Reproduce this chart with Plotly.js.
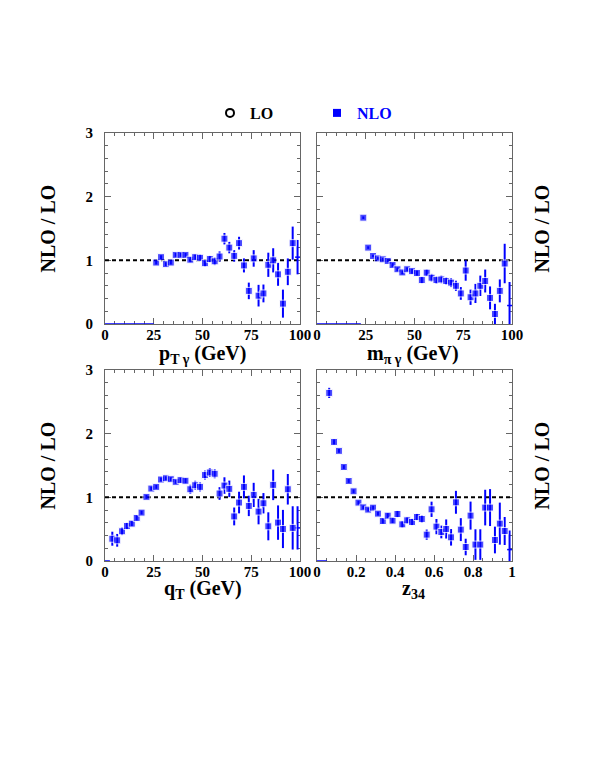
<!DOCTYPE html>
<html>
<head>
<meta charset="utf-8">
<script src="https://cdn.plot.ly/plotly-3.0.1.min.js"></script>
<style>
  body { margin: 0; background: #fff; }
  #chart { width: 590px; height: 763px; }
</style>
</head>
<body>
<div id="chart"></div>
<script>
// p_T gamma panel (top left)
const ptX = [26.25, 28.75, 31.25, 33.75, 36.25, 38.75, 41.25, 43.75, 46.25, 48.75, 51.25, 53.75, 56.25, 58.75, 61.25,
             63.75, 66.25, 68.75, 71.25, 73.75, 76.25, 78.75, 81.25, 83.75, 86.25, 88.75, 91.25, 93.75, 96.25, 98.75];
const ptY = [0.965, 1.05, 0.94, 0.965, 1.085, 1.085, 1.085, 1.01, 1.05, 1.04, 0.955, 1.02, 0.985, 1.06, 1.34,
             1.20, 1.07, 1.27, 0.92, 0.52, 1.03, 0.445, 0.48, 0.93, 1.0, 0.78, 0.32, 0.82, 1.27, 1.05];
const ptErr = [0.03, 0.03, 0.03, 0.03, 0.03, 0.03, 0.03, 0.04, 0.04, 0.05, 0.05, 0.05, 0.06, 0.08, 0.09,
               0.09, 0.09, 0.1, 0.11, 0.13, 0.13, 0.17, 0.14, 0.19, 0.19, 0.18, 0.22, 0.21, 0.26, 0.27];

// m_pi gamma panel (top right)
const mX = [23.75, 26.25, 28.75, 31.25, 33.75, 36.25, 38.75, 41.25, 43.75, 46.25, 48.75, 51.25, 53.75, 56.25, 58.75, 61.25,
            63.75, 66.25, 68.75, 71.25, 73.75, 76.25, 78.75, 81.25, 83.75, 86.25, 88.75, 91.25, 93.75, 96.25, 98.75];
const mY = [1.67, 1.20, 1.068, 1.03, 1.016, 0.99, 0.927, 0.86, 0.81, 0.86, 0.83, 0.80, 0.69, 0.806, 0.727, 0.69,
            0.70, 0.675, 0.65, 0.60, 0.48, 0.84, 0.42, 0.48, 0.60, 0.675, 0.41, 0.157, 0.52, 0.95, 0.29];
const mErr = [0.02, 0.02, 0.02, 0.02, 0.02, 0.02, 0.03, 0.03, 0.03, 0.03, 0.04, 0.04, 0.05, 0.05, 0.06, 0.06,
              0.06, 0.06, 0.07, 0.08, 0.1, 0.16, 0.12, 0.15, 0.16, 0.18, 0.18, 0.16, 0.18, 0.31, 0.37];

// q_T panel (bottom left)
const qX = [3.75, 6.25, 8.75, 11.25, 13.75, 16.25, 18.75, 21.25, 23.75, 26.25, 28.75, 31.25, 33.75, 36.25, 38.75, 41.25,
            43.75, 46.25, 48.75, 51.25, 53.75, 56.25, 58.75, 61.25, 63.75, 66.25, 68.75, 71.25, 73.75, 76.25, 78.75,
            81.25, 83.75, 86.25, 88.75, 91.25, 93.75, 96.25, 98.75];
const qY = [0.35, 0.325, 0.467, 0.55, 0.587, 0.676, 0.76, 1.007, 1.138, 1.164, 1.28, 1.30, 1.285, 1.243, 1.27, 1.26,
            1.127, 1.19, 1.164, 1.35, 1.39, 1.37, 1.06, 1.185, 1.133, 0.70, 0.918, 1.164, 0.865, 1.038, 0.776,
            0.907, 0.545, 1.196, 0.603, 0.503, 1.127, 0.52, 0.52];
const qErr = [0.11, 0.1, 0.06, 0.05, 0.04, 0.04, 0.03, 0.03, 0.03, 0.03, 0.03, 0.03, 0.03, 0.03, 0.04, 0.04,
              0.07, 0.07, 0.07, 0.07, 0.07, 0.07, 0.1, 0.13, 0.13, 0.14, 0.17, 0.18, 0.16, 0.19, 0.2,
              0.16, 0.22, 0.24, 0.27, 0.3, 0.24, 0.34, 0.34];

// z_34 panel (bottom right)
const zX = [0.0625, 0.0875, 0.1125, 0.1375, 0.1625, 0.1875, 0.2125, 0.2375, 0.2625, 0.2875, 0.3125, 0.3375, 0.3625,
            0.3875, 0.4125, 0.4375, 0.4625, 0.4875, 0.5125, 0.5375, 0.5625, 0.5875, 0.6125, 0.6375, 0.6625, 0.6875,
            0.7125, 0.7375, 0.7625, 0.7875, 0.8125, 0.8375, 0.8625, 0.8875, 0.9125, 0.9375, 0.9625, 0.9875];
const zY = [2.64, 1.87, 1.73, 1.476, 1.257, 1.095, 0.917, 0.843, 0.807, 0.838, 0.744, 0.628, 0.712,
            0.634, 0.738, 0.576, 0.639, 0.613, 0.691, 0.66, 0.414, 0.812, 0.54, 0.456, 0.503, 0.372,
            0.922, 0.493, 0.22, 0.713, 0.258, 0.258, 0.839, 0.839, 0.33, 0.587, 0.471, 0.179];
const zErr = [0.08, 0.04, 0.03, 0.03, 0.03, 0.03, 0.03, 0.03, 0.03, 0.03, 0.03, 0.04, 0.04,
              0.04, 0.05, 0.05, 0.05, 0.05, 0.05, 0.06, 0.08, 0.12, 0.12, 0.1, 0.15, 0.13,
              0.18, 0.18, 0.13, 0.22, 0.24, 0.24, 0.28, 0.29, 0.21, 0.33, 0.22, 0.3];

const BLUE = '#0000ff';
const FRAME = '#666';
const SERIF = 'Liberation Serif, Times New Roman, serif';

// one panel: empty bins drawn at zero, the y=1 reference line, the NLO/LO points
function panelTraces(xs, ys, errs, binHalf, emptyTo, xMax, xa, ya) {
    const last = xs.length - 1;
    return [
        {
            x: [0, emptyTo], y: [0, 0], xaxis: xa, yaxis: ya,
            mode: 'lines', line: { color: BLUE, width: 1.5 },
            showlegend: false, hoverinfo: 'skip'
        },
        {
            x: [0, xMax], y: [1, 1], xaxis: xa, yaxis: ya,
            mode: 'lines', line: { color: '#000', width: 2, dash: '4px,3px' },
            showlegend: false, hoverinfo: 'skip'
        },
        {
            x: xs, y: ys, xaxis: xa, yaxis: ya,
            mode: 'markers',
            marker: { symbol: 'square', color: BLUE, size: xs.map((_, i) => i === last ? 0 : 7) },
            error_y: { type: 'data', array: errs, color: BLUE, thickness: 2, width: 0 },
            error_x: { type: 'data', array: xs.map((_, i) => i === last ? binHalf : 0), color: BLUE, thickness: 1.5, width: 0 },
            showlegend: false
        }
    ];
}

const traces = [].concat(
    panelTraces(ptX, ptY, ptErr, 1.25, 25, 100, 'x', 'y'),
    panelTraces(mX, mY, mErr, 1.25, 22.5, 100, 'x2', 'y2'),
    panelTraces(qX, qY, qErr, 1.25, 2.5, 100, 'x3', 'y3'),
    panelTraces(zX, zY, zErr, 0.0125, 0.05, 1, 'x4', 'y4')
);

// legend-only entries
traces.push({
    x: [null], y: [null], mode: 'markers', name: 'LO',
    marker: { symbol: 'circle-open', color: '#000', size: 8, line: { width: 2, color: '#000' } }
});
traces.push({
    x: [null], y: [null], mode: 'markers', name: '<span style="color:#0000ff">NLO</span>',
    marker: { symbol: 'square', color: BLUE, size: 8 }
});

const tickFont = { family: SERIF, size: 15, weight: 'bold', color: '#000' };
const titleFont = { family: SERIF, size: 20, weight: 'bold', color: '#000' };

function axis(extra) {
    return Object.assign({
        showline: true, linecolor: FRAME, linewidth: 1, mirror: 'allticks',
        ticks: 'inside', ticklen: 6, tickcolor: FRAME, tickwidth: 1,
        showgrid: false, zeroline: false, fixedrange: true, layer: 'below traces',
        tickfont: tickFont
    }, extra);
}

const colL = [105 / 590, 300 / 590];
const colR = [317 / 590, 512 / 590];
const rowT = [1 - 324 / 763, 1 - 133 / 763];
const rowB = [1 - 561 / 763, 1 - 370 / 763];

const xTicks = [0, 25, 50, 75, 100];
const zTicks = [0, 0.2, 0.4, 0.6, 0.8, 1];
const yTicks = [0, 1, 2, 3];

function xAxis(domain, anchor, range, ticks, minorStep) {
    return axis({
        domain, anchor, range, tickvals: ticks, ticklabelstandoff: -3,
        minor: { ticks: 'inside', ticklen: 3, dtick: minorStep, tickcolor: FRAME, showgrid: false }
    });
}

function yAxis(domain, anchor, labels) {
    return axis({
        domain, anchor, range: [0, 3], tickvals: yTicks, showticklabels: labels,
        ticklabelstandoff: 8,
        minor: { ticks: 'inside', ticklen: 3, dtick: 0.2, tickcolor: FRAME, showgrid: false }
    });
}

const label = (text, x, y, angle) => ({
    text, xref: 'paper', yref: 'paper', x, y,
    xanchor: 'center', yanchor: 'middle', textangle: angle,
    showarrow: false, font: titleFont
});

const layout = {
    width: 590, height: 763,
    margin: { l: 0, r: 0, t: 0, b: 0 },
    paper_bgcolor: '#fff', plot_bgcolor: '#fff',
    showlegend: true,
    legend: {
        orientation: 'h', x: 210 / 590, y: 1 - 113 / 763, xanchor: 'left', yanchor: 'middle',
        font: { family: SERIF, size: 16, weight: 'bold', color: '#000' },
        entrywidth: 62, entrywidthmode: 'pixels', bgcolor: 'rgba(0,0,0,0)'
    },
    xaxis: xAxis(colL, 'y', [0, 100], xTicks, 5),
    yaxis: yAxis(rowT, 'x', true),
    xaxis2: xAxis(colR, 'y2', [0, 100], xTicks, 5),
    yaxis2: yAxis(rowT, 'x2', false),
    xaxis3: xAxis(colL, 'y3', [0, 100], xTicks, 5),
    yaxis3: yAxis(rowB, 'x3', true),
    xaxis4: xAxis(colR, 'y4', [0, 1], zTicks, 0.05),
    yaxis4: yAxis(rowB, 'x4', false),
    annotations: [
        label('NLO / LO', 47 / 590, 1 - 228.5 / 763, -90),
        label('NLO / LO', 541 / 590, 1 - 228.5 / 763, -90),
        label('NLO / LO', 47 / 590, 1 - 465.5 / 763, -90),
        label('NLO / LO', 541 / 590, 1 - 465.5 / 763, -90),
        label('p<sub>T γ</sub> (GeV)', 202 / 590, 1 - 354 / 763, 0),
        label('m<sub>π γ</sub> (GeV)', 413 / 590, 1 - 354 / 763, 0),
        label('q<sub>T</sub> (GeV)', 203 / 590, 1 - 589 / 763, 0),
        label('z<sub>34</sub>', 413 / 590, 1 - 589 / 763, 0)
    ]
};

Plotly.newPlot('chart', traces, layout, { displayModeBar: false, staticPlot: true });
</script>
</body>
</html>
